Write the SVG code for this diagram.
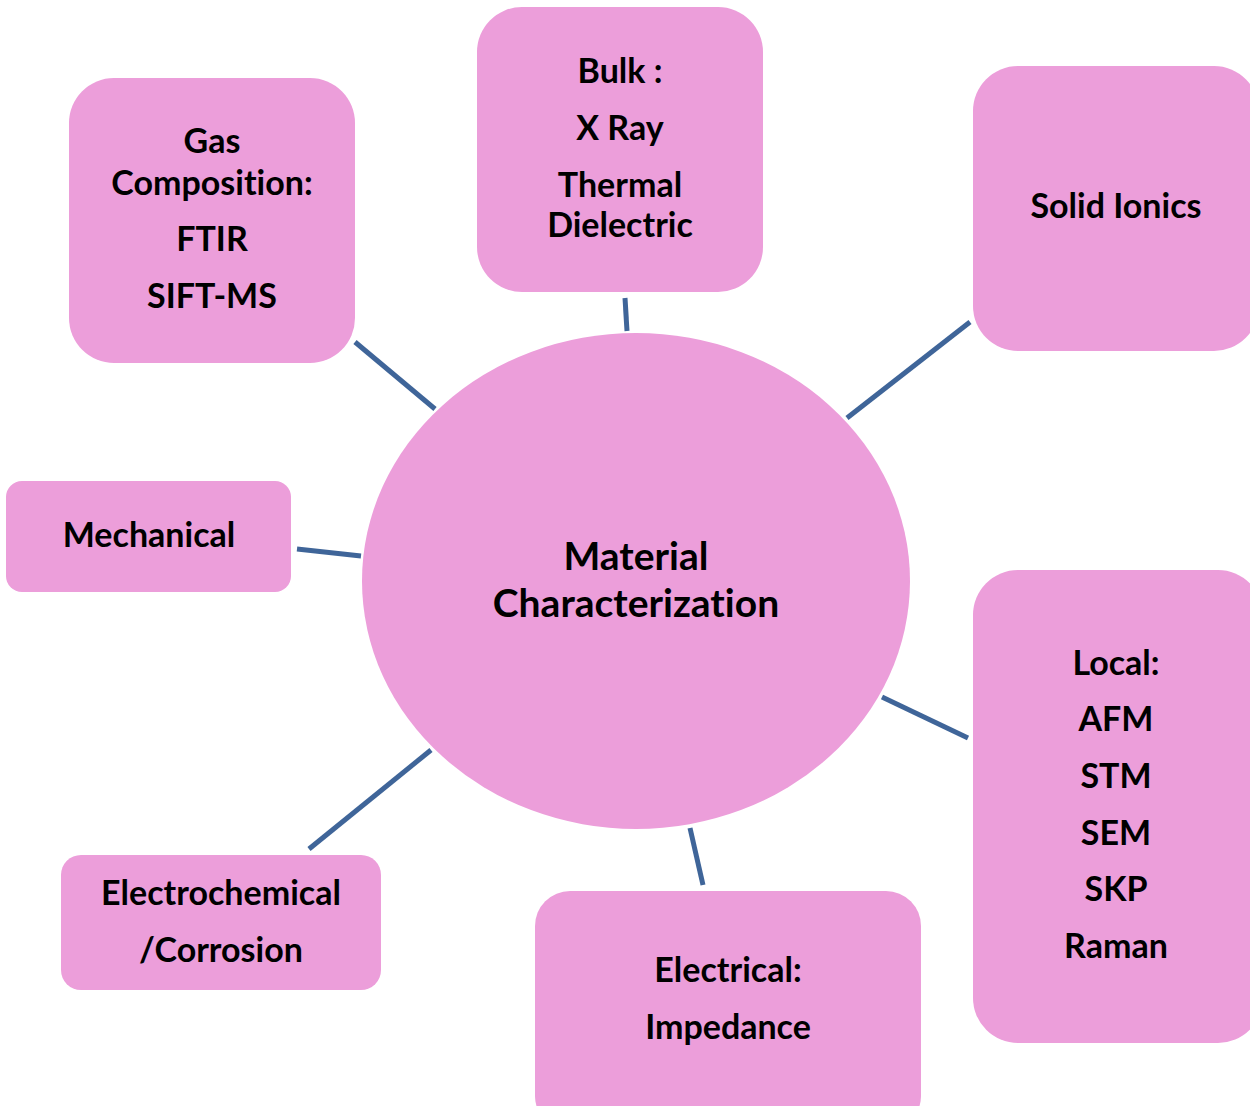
<svg xmlns="http://www.w3.org/2000/svg" width="1250" height="1106" viewBox="0 0 1250 1106">
<style>
.box{fill:#EC9EDA;}
.t{font-family:Lato,"Liberation Sans",sans-serif;font-weight:bold;font-size:34px;fill:#000;text-anchor:middle;font-variant-ligatures:none;}
.big{font-size:39px;}
.c{stroke:#3F6599;stroke-width:5;fill:none;}
</style>
<rect width="1250" height="1106" fill="#fff"/>
<g id="connectors">
<line class="c" x1="355" y1="342" x2="435" y2="409"/>
<line class="c" x1="625" y1="298" x2="627" y2="331"/>
<line class="c" x1="970" y1="322" x2="847" y2="418"/>
<line class="c" x1="297" y1="549" x2="361" y2="556"/>
<line class="c" x1="882" y1="697" x2="968" y2="738"/>
<line class="c" x1="690" y1="828" x2="703" y2="885"/>
<line class="c" x1="431" y1="750" x2="309" y2="849"/>
</g>
<g id="center">
<ellipse class="box" cx="636" cy="581" rx="274" ry="248"/>
<text class="t big" x="636" y="570">Material</text>
<text class="t big" x="636" y="617">Characterization</text>
</g>
<g id="gas">
<rect class="box" x="69" y="78" width="286" height="285" rx="45"/>
<text class="t" x="212" y="153">Gas</text>
<text class="t" x="212" y="195">Composition:</text>
<text class="t" x="212" y="251">FTIR</text>
<text class="t" x="212" y="308">SIFT-MS</text>
</g>
<g id="bulk">
<rect class="box" x="477" y="7" width="286" height="285" rx="45"/>
<text class="t" x="620" y="83">Bulk :</text>
<text class="t" x="620" y="140">X Ray</text>
<text class="t" x="620" y="197">Thermal</text>
<text class="t" x="620" y="237">Dielectric</text>
</g>
<g id="solid">
<rect class="box" x="973" y="66" width="286" height="285" rx="45"/>
<text class="t" x="1116" y="218">Solid Ionics</text>
</g>
<g id="mechanical">
<rect class="box" x="6" y="481" width="285" height="111" rx="16"/>
<text class="t" x="149" y="547">Mechanical</text>
</g>
<g id="local">
<rect class="box" x="973" y="570" width="290" height="473" rx="45"/>
<text class="t" x="1116" y="675">Local:</text>
<text class="t" x="1116" y="731">AFM</text>
<text class="t" x="1116" y="788">STM</text>
<text class="t" x="1116" y="845">SEM</text>
<text class="t" x="1116" y="901">SKP</text>
<text class="t" x="1116" y="958">Raman</text>
</g>
<g id="electrochemical">
<rect class="box" x="61" y="855" width="320" height="135" rx="20"/>
<text class="t" x="221" y="905">Electrochemical</text>
<text class="t" x="221" y="962">/Corrosion</text>
</g>
<g id="electrical">
<rect class="box" x="535" y="891" width="386" height="240" rx="35"/>
<text class="t" x="728" y="982">Electrical:</text>
<text class="t" x="728" y="1039">Impedance</text>
</g>
</svg>
